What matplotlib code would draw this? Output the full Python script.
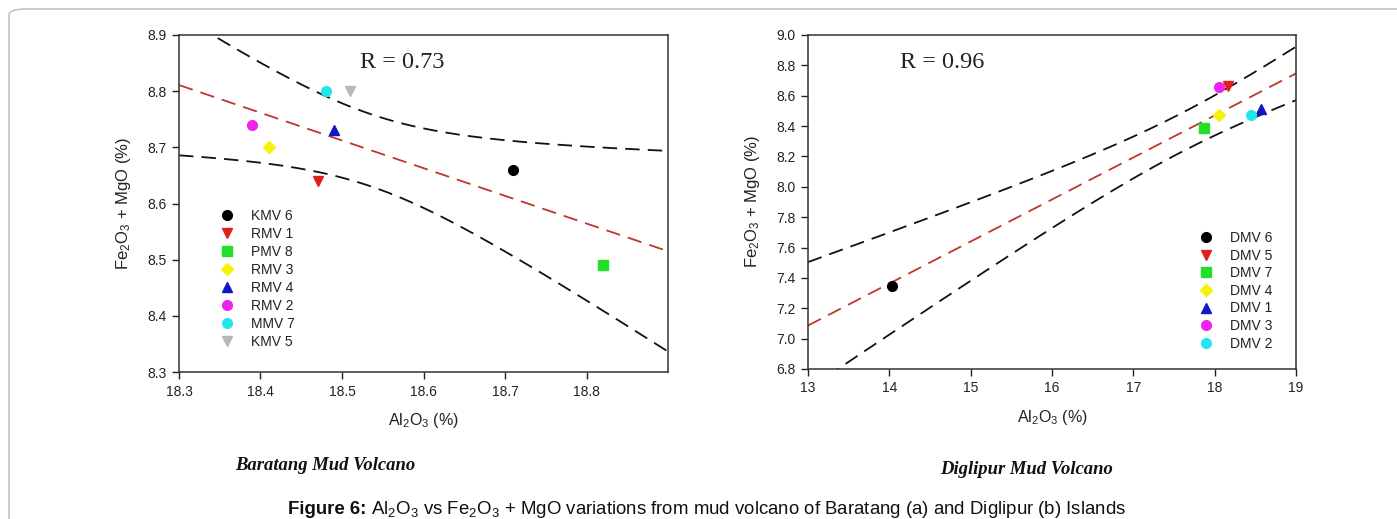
import numpy as np
import matplotlib
matplotlib.use("Agg")
import matplotlib.pyplot as plt
from matplotlib.patches import FancyBboxPatch

plt.rcParams['font.family'] = ['Liberation Sans', 'DejaVu Sans']
plt.rcParams['mathtext.fontset'] = 'custom'
plt.rcParams['mathtext.rm'] = 'Liberation Sans'
plt.rcParams['mathtext.it'] = 'Liberation Sans:italic'
plt.rcParams['mathtext.bf'] = 'Liberation Sans:bold'
plt.rcParams['mathtext.default'] = 'regular'

# ---- Data: Baratang (a) ----
bar_labels = ["KMV 6", "RMV 1", "PMV 8", "RMV 3", "RMV 4", "RMV 2", "MMV 7", "KMV 5"]
bar_al2o3 = [18.71, 18.47, 18.82, 18.41, 18.49, 18.39, 18.48, 18.51]
bar_fe_mg = [8.66, 8.64, 8.49, 8.70, 8.73, 8.74, 8.80, 8.80]
bar_markers = ["o", "v", "s", "D", "^", "o", "o", "v"]
bar_colors = ["#000000", "#e0201b", "#22e02a", "#f5f20a", "#1515c8", "#ee22ee", "#22e5ee", "#b8b8b8"]
bar_xticks = [18.3, 18.4, 18.5, 18.6, 18.7, 18.8]
bar_yticks = [8.3, 8.4, 8.5, 8.6, 8.7, 8.8, 8.9]
bar_R = "R = 0.73"

# ---- Data: Diglipur (b) ----
dig_labels = ["DMV 6", "DMV 5", "DMV 7", "DMV 4", "DMV 1", "DMV 3", "DMV 2"]
dig_al2o3 = [14.03, 18.16, 17.87, 18.05, 18.57, 18.05, 18.45]
dig_fe_mg = [7.35, 8.665, 8.385, 8.47, 8.51, 8.66, 8.47]
dig_markers = ["o", "v", "s", "D", "^", "o", "o"]
dig_colors = ["#000000", "#e0201b", "#22e02a", "#f5f20a", "#1515c8", "#ee22ee", "#22e5ee"]
dig_xticks = [13, 14, 15, 16, 17, 18, 19]
dig_yticks = [6.8, 7.0, 7.2, 7.4, 7.6, 7.8, 8.0, 8.2, 8.4, 8.6, 8.8, 9.0]
dig_R = "R = 0.96"

# Student t (0.975) for n-2 degrees of freedom
T975 = {5: 2.571, 6: 2.447}

W, H = 1397, 519
fig = plt.figure(figsize=(W / 100, H / 100), dpi=100)

# rounded frame
frame = FancyBboxPatch((9 / W, -40 / H), (W + 40) / W, (H - 9 + 40) / H,
                       boxstyle="round,pad=0,rounding_size=0.012",
                       transform=fig.transFigure, fill=False,
                       edgecolor="#c4c4c4", linewidth=1.2, zorder=0)
fig.patches.append(frame)

def axes_px(left, right, top, bottom):
    return fig.add_axes([left / W, (H - bottom) / H, (right - left) / W, (bottom - top) / H])

DASH = (0, (8, 4.5))

def draw_panel(ax, xs, ys, labels, markers, colors, xlim, ylim, xticks, yticks, yfmt):
    xs = np.asarray(xs, float)
    ys = np.asarray(ys, float)
    n = len(xs)
    slope, icpt = np.polyfit(xs, ys, 1)
    xg = np.linspace(xlim[0], xlim[1], 300)
    yfit = slope * xg + icpt
    resid = ys - (slope * xs + icpt)
    s = np.sqrt(np.sum(resid ** 2) / (n - 2))
    sxx = np.sum((xs - xs.mean()) ** 2)
    se = s * np.sqrt(1.0 / n + (xg - xs.mean()) ** 2 / sxx)
    t = T975[n - 2]
    ax.plot(xg, yfit, color="#c0352c", lw=1.3, ls=DASH, zorder=2)
    ax.plot(xg, yfit + t * se, color="#111111", lw=1.3, ls=DASH, zorder=2)
    ax.plot(xg, yfit - t * se, color="#111111", lw=1.3, ls=DASH, zorder=2)
    handles = []
    for x, y, lab, m, c in zip(xs, ys, labels, markers, colors):
        ms = 6.2 if m == "D" else (7.2 if m in ("v", "^") else 7.0)
        h, = ax.plot([x], [y], ls="none", marker=m, ms=ms, color=c,
                     markeredgecolor=c, label=lab, zorder=3)
        handles.append(h)
    ax.set_xlim(*xlim)
    ax.set_ylim(*ylim)
    ax.set_xticks(xticks)
    ax.set_yticks(yticks)
    ax.set_xticklabels([str(v) if isinstance(v, int) else f"{v:.1f}" for v in xticks])
    ax.set_yticklabels([yfmt.format(v) for v in yticks])
    ax.tick_params(direction="out", length=5, width=1.0, labelsize=10, colors="#222222",
                   pad=4)
    for sp in ax.spines.values():
        sp.set_linewidth(1.1)
        sp.set_color("#333333")
    ax.set_xlabel("Al$_2$O$_3$ (%)", fontsize=11.5, color="#222222", labelpad=9)
    ax.set_ylabel("Fe$_2$O$_3$ + MgO (%)", fontsize=12, color="#222222", labelpad=10)
    return handles

# Left panel
axL = axes_px(179, 668, 35, 372)
hL = draw_panel(axL, bar_al2o3, bar_fe_mg, bar_labels, bar_markers, bar_colors,
                (18.3, 18.9), (8.3, 8.9), bar_xticks, bar_yticks, "{:.1f}")
axL.legend(handles=hL, loc="upper left", bbox_to_anchor=((220 - 179) / 489, (372 - 209) / 337),
           frameon=False, fontsize=10, handlelength=1.0, handletextpad=1.2,
           labelspacing=0.29, borderpad=0, borderaxespad=0, labelcolor="#222222")
axL.text((402 - 179) / 489, (372 - 62) / 337, bar_R, transform=axL.transAxes, ha="center", va="center",
         fontsize=17.5, family="Liberation Serif", color="#222222")

# Right panel
axR = axes_px(808, 1296, 35, 369)
hR = draw_panel(axR, dig_al2o3, dig_fe_mg, dig_labels, dig_markers, dig_colors,
                (13, 19), (6.8, 9.0), dig_xticks, dig_yticks, "{:.1f}")
axR.legend(handles=hR, loc="upper left", bbox_to_anchor=((1199 - 808) / 488, (369 - 231) / 334),
           frameon=False, fontsize=10, handlelength=1.0, handletextpad=1.2,
           labelspacing=0.26, borderpad=0, borderaxespad=0, labelcolor="#222222")
axR.text((942 - 808) / 488, (369 - 63) / 334, dig_R, transform=axR.transAxes,
         ha="center", va="center", fontsize=17.5, family="Liberation Serif", color="#222222")

# Captions
fig.text(325 / W, 1 - 466 / H, "Baratang Mud Volcano", ha="center", va="center",
         fontsize=13.4, family="Liberation Serif", style="italic", weight="bold", color="#111111")
fig.text(1027 / W, 1 - 469 / H, "Diglipur Mud Volcano", ha="center", va="center",
         fontsize=13.4, family="Liberation Serif", style="italic", weight="bold", color="#111111")

cap_y = 1 - 514 / H
t1 = fig.text(288 / W, cap_y, "Figure 6:", ha="left", va="baseline", fontsize=13.4,
              weight="bold", color="#111111")
fig.canvas.draw()
bb = t1.get_window_extent(renderer=fig.canvas.get_renderer())
fig.text((bb.x1 + 5) / W, cap_y,
         "Al$_2$O$_3$ vs Fe$_2$O$_3$ + MgO variations from mud volcano of Baratang (a) and Diglipur (b) Islands",
         ha="left", va="baseline", fontsize=13.4, color="#111111")

fig.savefig("out.png", dpi=100)
